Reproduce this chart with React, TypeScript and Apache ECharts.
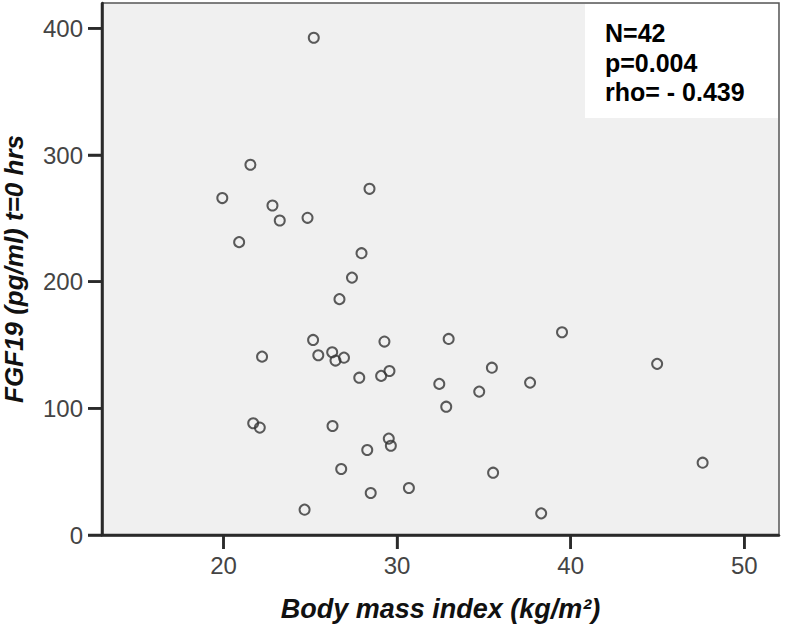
import React, { useEffect, useRef } from "react";
import * as echarts from "echarts";

const bmi: number[] = [
  25.2, 21.55, 19.93, 22.82, 23.24, 24.84, 28.41, 20.9, 27.95, 27.4,
  26.68, 25.16, 29.27, 32.97, 39.5, 44.98, 35.46, 22.22, 25.46, 26.26,
  26.45, 26.94, 27.82, 29.08, 29.56, 32.43, 37.66, 34.73, 32.83, 21.71,
  22.09, 26.28, 29.52, 29.64, 28.28, 26.78, 35.53, 47.6, 28.48, 30.68,
  24.67, 38.3,
];
const fgf19: number[] = [
  392.6, 292.3, 266.0, 260.1, 248.3, 250.4, 273.3, 231.2, 222.5, 203.2,
  186.2, 154.0, 152.7, 154.8, 160.1, 135.1, 132.1, 140.8, 141.9, 144.3,
  137.7, 140.0, 124.2, 125.6, 129.5, 119.3, 120.3, 113.2, 101.3, 88.2,
  84.8, 86.1, 76.1, 70.5, 67.1, 52.1, 49.2, 57.1, 33.2, 37.1,
  20.0, 17.1,
];
const xTicks: number[] = [20, 30, 40, 50];
const yTicks: number[] = [0, 100, 200, 300, 400];
const xRange: number[] = [13, 52];
const yRange: number[] = [0, 420];
const statsLines: string[] = ["N=42", "p=0.004", "rho= - 0.439"];

const FONT = "'Liberation Sans', Arial, sans-serif";
const AXIS_COLOR = "#2a2a2a";
const TICK_LEN = 14;
const LW = 2.5;

export default function App() {
  const ref = useRef<HTMLDivElement>(null);
  useEffect(() => {
    document.body.style.margin = "0";
    if (!ref.current) return;
    const chart = echarts.init(ref.current, undefined, { renderer: "svg" });
    const statGraphics: any[] = [
      {
        type: "rect",
        shape: { x: 585, y: 4, width: 193, height: 114 },
        style: { fill: "#fff" },
        z: 10,
      },
      ...statsLines.map((t, i) => ({
        type: "text",
        x: 605,
        y: 33 + i * 29.5,
        z: 11,
        style: {
          text: t,
          fontSize: 25,
          fontWeight: "bold",
          fontFamily: FONT,
          fill: "#000",
          verticalAlign: "middle",
        },
      })),
    ];
    const axisLine = { show: true, onZero: false, lineStyle: { color: AXIS_COLOR, width: LW } };
    chart.setOption({
      animation: false,
      backgroundColor: "#fff",
      grid: {
        left: 102,
        top: 3,
        width: 677,
        height: 532,
        show: true,
        backgroundColor: "#f0f0f0",
        borderColor: "#555",
        borderWidth: 1.5,
        outerBoundsMode: "none",
      },
      xAxis: {
        type: "value",
        min: xRange[0],
        max: xRange[1],
        axisLine,
        axisTick: {
          show: true,
          length: TICK_LEN,
          customValues: xTicks,
          lineStyle: { color: AXIS_COLOR, width: LW },
        },
        axisLabel: {
          customValues: xTicks,
          fontSize: 24,
          color: "#444",
          margin: 18,
          fontFamily: FONT,
        },
        splitLine: { show: false },
        name: "Body mass index (kg/m²)",
        nameLocation: "middle",
        nameGap: 60,
        nameTextStyle: {
          fontSize: 27,
          fontWeight: "bold",
          fontStyle: "italic",
          color: "#111",
          fontFamily: FONT,
        },
      },
      yAxis: {
        type: "value",
        min: yRange[0],
        max: yRange[1],
        axisLine,
        axisTick: {
          show: true,
          length: TICK_LEN,
          customValues: yTicks,
          lineStyle: { color: AXIS_COLOR, width: LW },
        },
        axisLabel: {
          customValues: yTicks,
          fontSize: 24,
          color: "#444",
          margin: 19,
          fontFamily: FONT,
        },
        splitLine: { show: false },
        name: "FGF19 (pg/ml) t=0 hrs",
        nameLocation: "middle",
        nameGap: 75,
        nameTextStyle: {
          fontSize: 26,
          fontWeight: "bold",
          fontStyle: "italic",
          color: "#111",
          fontFamily: FONT,
        },
      },
      graphic: statGraphics,
      series: [
        {
          type: "scatter",
          data: bmi.map((x, i) => [x, fgf19[i]]),
          symbol: "circle",
          symbolSize: 10,
          itemStyle: { color: "rgba(0,0,0,0)", borderColor: "#333", borderWidth: 2 },
          z: 2,
        },
      ],
    });

    // Axis lines and ticks, positioned through the chart's own scales.
    const px = (v: number[]) => chart.convertToPixel({ gridIndex: 0 }, v) as number[];
    const o = px([xRange[0], yRange[0]]);
    const t = px([xRange[0], yRange[1]]);
    const r = px([xRange[1], yRange[0]]);
    const ok = (p: any) => Array.isArray(p) && isFinite(p[0]) && isFinite(p[1]);
    if (ok(o) && ok(t) && ok(r)) {
      const style = { stroke: AXIS_COLOR, lineWidth: LW };
      const axisGraphics: any[] = [
        { type: "line", z: 12, shape: { x1: o[0], y1: t[1], x2: o[0], y2: o[1] }, style },
        { type: "line", z: 12, shape: { x1: o[0], y1: o[1], x2: r[0], y2: r[1] }, style },
        ...xTicks.map((v) => {
          const p = px([v, yRange[0]]);
          return {
            type: "line",
            z: 12,
            shape: { x1: p[0], y1: p[1], x2: p[0], y2: p[1] + TICK_LEN },
            style,
          };
        }),
        ...yTicks.map((v) => {
          const p = px([xRange[0], v]);
          return {
            type: "line",
            z: 12,
            shape: { x1: p[0] - TICK_LEN, y1: p[1], x2: p[0], y2: p[1] },
            style,
          };
        }),
      ];
      chart.setOption({ graphic: [...statGraphics, ...axisGraphics] });
    }
    return () => chart.dispose();
  }, []);
  return <div ref={ref} style={{ width: 787, height: 628 }} />;
}
